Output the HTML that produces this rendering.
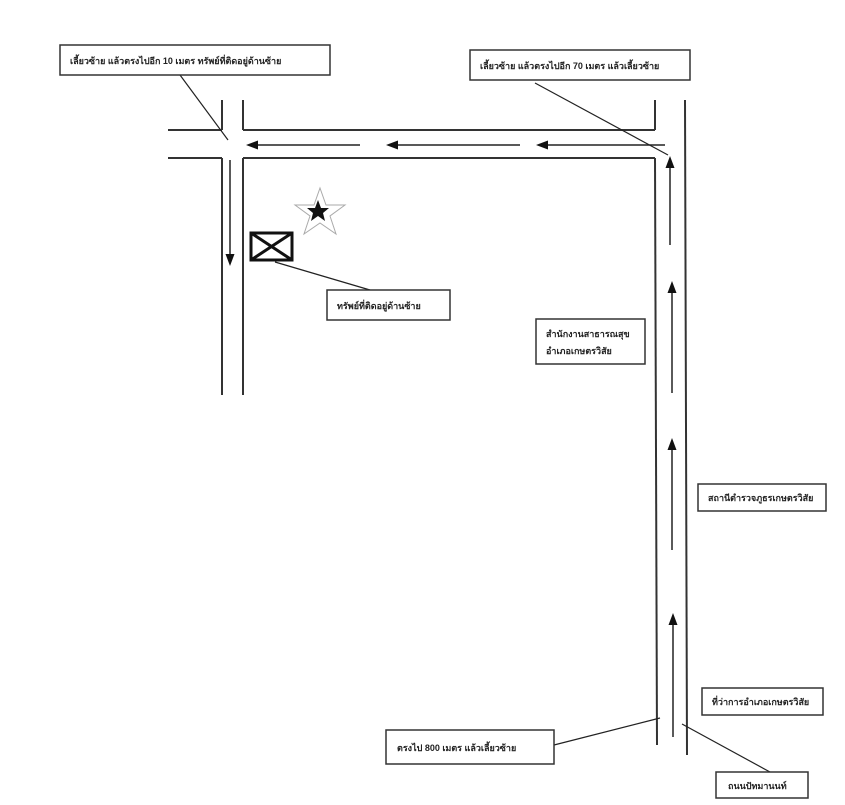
<!DOCTYPE html>
<html><head><meta charset="utf-8"><style>
body{margin:0;background:#fff;}
svg text{font-family:"Liberation Sans","Noto Sans CJK SC",sans-serif;font-weight:bold;fill:#222;}
</style></head><body>
<svg width="845" height="800" viewBox="0 0 845 800" xmlns="http://www.w3.org/2000/svg">
<defs><marker id="a" markerWidth="8" markerHeight="8" refX="4" refY="4" orient="auto"><path d="M0,1 L8,4 L0,7 z" fill="#111"/></marker></defs>
<g stroke="#333" stroke-width="2" fill="none">
<line x1="168" y1="130" x2="222" y2="130"/><line x1="243" y1="130" x2="655" y2="130"/>
<line x1="168" y1="158" x2="222" y2="158"/><line x1="243" y1="158" x2="655" y2="158"/>
<line x1="222" y1="100" x2="222" y2="130"/><line x1="243" y1="100" x2="243" y2="130"/>
<line x1="222" y1="158" x2="222" y2="395"/><line x1="243" y1="158" x2="243" y2="395"/>
<line x1="655" y1="100" x2="655" y2="130"/><line x1="655" y1="158" x2="657" y2="745"/>
<line x1="685" y1="100" x2="687" y2="755"/>
</g>
<g stroke="#222" stroke-width="1.5" marker-end="url(#a)">
<line x1="360" y1="145" x2="252" y2="145"/><line x1="520" y1="145" x2="392" y2="145"/><line x1="665" y1="145" x2="542" y2="145"/>
<line x1="230" y1="160" x2="230" y2="260"/>
<line x1="670" y1="245" x2="670" y2="162"/><line x1="672" y1="393" x2="672" y2="287"/>
<line x1="672" y1="550" x2="672" y2="444"/><line x1="673" y1="737" x2="673" y2="619"/>
</g>
<g stroke="#222" stroke-width="1.2">
<line x1="180" y1="75" x2="228" y2="140"/><line x1="535" y1="83" x2="668" y2="155"/>
<line x1="275" y1="262" x2="370" y2="290"/><line x1="554" y1="745" x2="660" y2="718"/>
<line x1="682" y1="724" x2="770" y2="772"/>
</g>
<rect x="251" y="233" width="41" height="27" fill="none" stroke="#111" stroke-width="3"/>
<line x1="251" y1="233" x2="292" y2="260" stroke="#111" stroke-width="3"/><line x1="292" y1="233" x2="251" y2="260" stroke="#111" stroke-width="3"/>
<polygon points="320,188 326,205 345,205 330,216 336,234 320,223 304,234 310,216 295,205 314,205" fill="none" stroke="#aaa" stroke-width="1"/>
<polygon points="318,200 321,208 329,208 323,213 325,221 318,216 311,221 313,213 307,208 315,208" fill="#111"/>
<g fill="#fff" stroke="#333" stroke-width="1.5">
<rect x="60" y="45" width="270" height="30"/><rect x="470" y="50" width="220" height="30"/>
<rect x="327" y="290" width="123" height="30"/><rect x="536" y="319" width="109" height="45"/>
<rect x="698" y="484" width="128" height="27"/><rect x="702" y="688" width="121" height="27"/>
<rect x="386" y="730" width="168" height="34"/><rect x="716" y="772" width="92" height="26"/>
</g>
<g font-size="9">
<text x="70" y="64">เลี้ยวซ้าย แล้วตรงไปอีก 10 เมตร ทรัพย์ที่ติดอยู่ด้านซ้าย</text>
<text x="480" y="69">เลี้ยวซ้าย แล้วตรงไปอีก 70 เมตร แล้วเลี้ยวซ้าย</text>
<text x="337" y="309">ทรัพย์ที่ติดอยู่ด้านซ้าย</text>
<text x="546" y="337">สำนักงานสาธารณสุข</text>
<text x="546" y="354">อำเภอเกษตรวิสัย</text>
<text x="708" y="501">สถานีตำรวจภูธรเกษตรวิสัย</text>
<text x="712" y="705">ที่ว่าการอำเภอเกษตรวิสัย</text>
<text x="397" y="751">ตรงไป 800 เมตร แล้วเลี้ยวซ้าย</text>
<text x="728" y="789">ถนนปัทมานนท์</text>
</g>
</svg>
</body></html>
